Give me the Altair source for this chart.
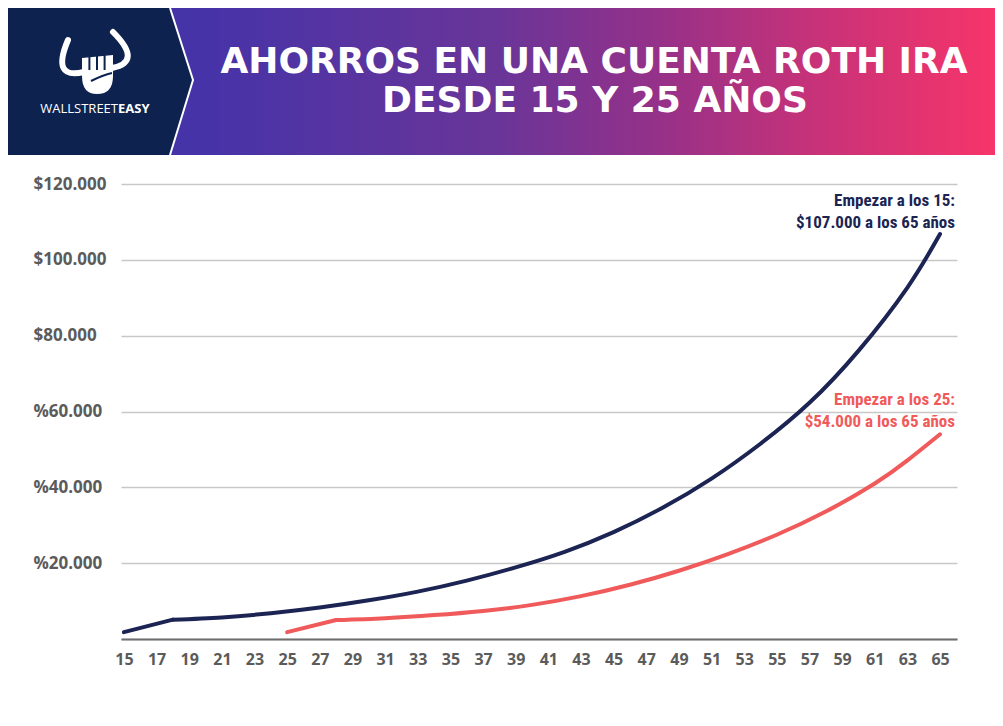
import altair as alt
import pandas as pd

# ---------------- data ----------------
ages_15 = [15, 18, 21, 24, 27, 30, 33, 36, 39, 42, 45, 48, 51, 54, 57, 60, 63, 65]
savings_15 = [1800, 5100, 5700, 6800, 8300, 10200, 12500, 15400, 18900, 23000,
              28200, 34600, 42300, 51500, 62300, 76000, 92700, 106800]
ages_25 = [25, 28, 31, 34, 37, 40, 43, 46, 49, 52, 55, 58, 61, 63, 65]
savings_25 = [1800, 5000, 5500, 6300, 7400, 9000, 11300, 14300, 18000, 22400,
              27500, 33600, 41000, 47100, 54000]
contribution_years = 3  # first three years are the straight "deposit" segment
series_names = ["Empezar a los 15", "Empezar a los 25"]
series_colors = ["#1b2452", "#f05a5a"]
x_ticks = list(range(15, 66, 2))
y_ticks = [0, 20000, 40000, 60000, 80000, 100000, 120000]
y_tick_labels = ["", "%20.000", "%40.000", "%60.000", "$80.000", "$100.000", "$120.000"]

title_lines = ["AHORROS EN UNA CUENTA ROTH IRA", "DESDE 15 Y 25 AÑOS"]
note_15 = ["Empezar a los 15:", "$107.000 a los 65 años"]
note_25 = ["Empezar a los 25:", "$54.000 a los 65 años"]
brand = ["WALLSTREET", "EASY"]

rows = []
for name, ages, vals in [(series_names[0], ages_15, savings_15),
                         (series_names[1], ages_25, savings_25)]:
    start = ages[0]
    for a, v in zip(ages, vals):
        if a - start <= contribution_years:
            rows.append({"age": a, "value": v, "series": name, "seg": name + " ramp"})
        if a - start >= contribution_years:
            rows.append({"age": a, "value": v, "series": name, "seg": name + " growth"})
df = pd.DataFrame(rows)

# ---------------- layout helpers (page px -> plot px) ----------------
PLOT_LEFT, PLOT_TOP = 121, 184
W, H = 836, 455


def px(x):
    return x - PLOT_LEFT


def py(y):
    return y - PLOT_TOP


one = alt.Data(values=[{"k": 1}])
NAVY = "#0e2250"
GRAY = "#5b5b5b"
LABEL_FONT = "Open Sans"

label_expr = "[" + ",".join("'" + s + "'" for s in y_tick_labels) + "][round(datum.value/20000)]"

lines = alt.Chart(df).mark_line(
    strokeWidth=4, interpolate="natural", strokeCap="round", strokeJoin="round"
).encode(
    x=alt.X("age:Q",
            scale=alt.Scale(domain=[14.82, 66.04], nice=False, zero=False),
            axis=alt.Axis(values=x_ticks, ticks=False, grid=False, domainColor="#6e6e6e",
                          domainWidth=2, labelFont=LABEL_FONT, labelFontSize=16,
                          labelFontWeight="bold", labelColor=GRAY, labelPadding=12,
                          labelFlush=False, labelOverlap=False, title=None)),
    y=alt.Y("value:Q",
            scale=alt.Scale(domain=[0, 120000], nice=False),
            axis=alt.Axis(values=y_ticks, ticks=False, tickSize=0, domain=False,
                          gridColor="#c8c8c8", gridWidth=1.5, labelAlign="left",
                          labelBaseline="middle", labelPadding=88, labelExpr=label_expr,
                          labelFont=LABEL_FONT, labelFontSize=17, labelFontWeight="bold",
                          labelColor=GRAY, title=None)),
    color=alt.Color("series:N", scale=alt.Scale(domain=series_names, range=series_colors),
                    legend=None),
    detail="seg:N",
)

# ---------------- header banner ----------------
gradient = alt.LinearGradient(
    gradient="linear", x1=0, x2=1, y1=0, y2=0,
    stops=[alt.GradientStop(offset=0.0, color="#4233aa"),
           alt.GradientStop(offset=0.2, color="#4633a8"),
           alt.GradientStop(offset=0.5, color="#6a3598"),
           alt.GradientStop(offset=0.65, color="#93318a"),
           alt.GradientStop(offset=0.8, color="#c2327a"),
           alt.GradientStop(offset=1.0, color="#f7346a")])

banner = alt.Chart(one).mark_rect(color=gradient).encode(
    x=alt.value(px(8)), x2=alt.value(px(995)), y=alt.value(py(8)), y2=alt.value(py(155)))

logo_panel = alt.Chart(one).mark_point(
    shape="M-0.92,-0.72L0.70,-0.72L0.93,0L0.70,0.75L-0.92,0.75Z",
    size=40000, filled=True, color=NAVY, opacity=1, strokeWidth=0
).encode(x=alt.value(px(100)), y=alt.value(py(80)))

logo_edge = alt.Chart(one).mark_point(
    shape="M0.70,-0.72L0.93,0L0.70,0.75",
    size=40000, filled=False, color="white", opacity=1, strokeWidth=2
).encode(x=alt.value(px(100)), y=alt.value(py(80)))

horns = alt.Chart(one).mark_point(
    shape="M-0.58,-0.5Q-0.92,0.3,-0.26,0.14M0.32,-0.66Q0.92,-0.06,0.3,0.06",
    size=10000, filled=False, color="white", opacity=1, strokeWidth=6, strokeCap="round"
).encode(x=alt.value(px(97)), y=alt.value(py(65)))

fist = alt.Chart(one).mark_point(
    shape="M-0.75,-0.7L0.8,-0.85L0.8,0.2Q0.8,1.1,0,1.1Q-0.75,1.1,-0.75,0.2Z",
    size=1600, filled=True, color="white", opacity=1, strokeWidth=0
).encode(x=alt.value(px(97)), y=alt.value(py(72)))

fingers = alt.Chart(one).mark_point(
    shape="M-0.38,-0.75L-0.38,-0.1M0,-0.8L0,-0.1M0.38,-0.85L0.38,-0.1M-0.3,0.45Q0.3,0.15,0.75,0.05",
    size=1600, filled=False, color=NAVY, opacity=1, strokeWidth=2
).encode(x=alt.value(px(97)), y=alt.value(py(72)))

brand_a = alt.Chart(one).mark_text(
    align="right", baseline="alphabetic", font="Open Sans", fontSize=13, color="white"
).encode(x=alt.value(px(118)), y=alt.value(py(113)), text=alt.value(brand[0]))
brand_b = alt.Chart(one).mark_text(
    align="left", baseline="alphabetic", font="Open Sans", fontSize=13, fontWeight="bold",
    color="white"
).encode(x=alt.value(px(118)), y=alt.value(py(113)), text=alt.value(brand[1]))

title1 = alt.Chart(one).mark_text(
    align="center", baseline="alphabetic", font="DejaVu Sans", fontSize=36,
    fontWeight="bold", color="white"
).encode(x=alt.value(px(594)), y=alt.value(py(73)), text=alt.value(title_lines[0]))
title2 = alt.Chart(one).mark_text(
    align="center", baseline="alphabetic", font="DejaVu Sans", fontSize=36,
    fontWeight="bold", color="white"
).encode(x=alt.value(px(595)), y=alt.value(py(112)), text=alt.value(title_lines[1]))

# ---------------- annotations ----------------
NOTE_FONT = "Liberation Sans Narrow, Roboto Condensed, Arial Narrow, sans-serif"


def note(text, y, color):
    return alt.Chart(one).mark_text(
        align="right", baseline="alphabetic", font=NOTE_FONT, fontSize=17,
        fontWeight="bold", color=color
    ).encode(x=alt.value(px(955)), y=alt.value(py(y)), text=alt.value(text))


notes = [note(note_15[0], 206, series_colors[0]), note(note_15[1], 228, series_colors[0]),
         note(note_25[0], 405, series_colors[1]), note(note_25[1], 427, series_colors[1])]

chart = alt.layer(
    lines, banner, logo_panel, logo_edge, horns, fist, fingers, brand_a, brand_b,
    title1, title2, *notes
).properties(
    width=W, height=H,
    padding={"left": 113, "top": 176, "right": 38, "bottom": 70},
    autosize=alt.AutoSizeParams(type="none"),
    background="white",
).configure_view(stroke=None)

chart.save("out.html", embed_options={"renderer": "svg", "actions": False})
